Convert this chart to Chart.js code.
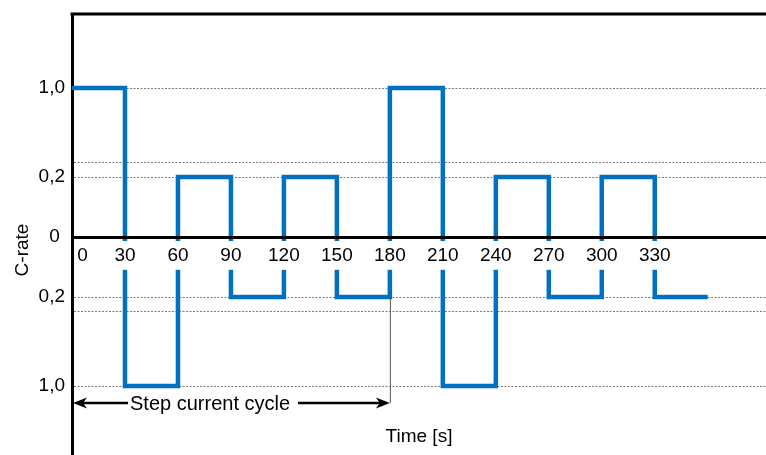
<!DOCTYPE html>
<html>
<head>
<meta charset="utf-8">
<title>Step current cycle</title>
<script src="https://cdn.jsdelivr.net/npm/chart.js@4.4.1/dist/chart.umd.min.js"></script>
<style>
  html, body { margin: 0; padding: 0; background: #fff; }
  #wrap { width: 766px; height: 455px; }
</style>
</head>
<body>
<div id="wrap"><canvas id="cycleChart" width="766" height="455"></canvas></div>
<script>
// step profile: the C-rate is held from each time to the next one
const stepTimes = [0, 30, 60, 90, 120, 150, 180, 210, 240, 270, 300, 330, 360];
const stepRates = [1.0, -1.0, 0.2, -0.2, 0.2, -0.2, 1.0, -1.0, 0.2, -0.2, 0.2, -0.2, -0.2];

const timeTicks = [0, 30, 60, 90, 120, 150, 180, 210, 240, 270, 300, 330, 360];
const timeTickLabels = ["0", "30", "60", "90", "120", "150", "180", "210", "240", "270", "300", "330", ""];

const rateTicks = [1.0, 0.33, 0.2, 0, -0.2, -0.33, -1.0];
const rateTickLabels = ["1,0", "", "0,2", "0", "0,2", "", "1,0"];

const cycleStart = 0;
const cycleEnd = 180;

const FONT = "'Liberation Sans', Arial, sans-serif";
Chart.defaults.font.family = FONT;

// the C-rate axis is stretched near zero (0..0.2 gets more room than 0.2..1.0)
function warpRate(v) {
  const a = Math.abs(v);
  const u = a <= 0.2 ? a * 300 : 60 + (a - 0.2) * 111.25;
  return v < 0 ? -u : u;
}

class RateScale extends Chart.LinearScale {
  getPixelForValue(value) {
    if (value === null || isNaN(value)) return super.getPixelForValue(value);
    return super.getPixelForValue(warpRate(value));
  }
}
RateScale.id = "rate";
RateScale.defaults = Chart.LinearScale.defaults;
Chart.register(RateScale);

const notesPlugin = {
  id: "cycleNotes",
  afterDraw(chart) {
    const { ctx, chartArea: area } = chart;
    const x = chart.scales.x, y = chart.scales.y;
    ctx.save();

    // top frame line
    ctx.strokeStyle = "#000";
    ctx.lineWidth = 3;
    ctx.beginPath();
    ctx.moveTo(area.left - 1.5, area.top);
    ctx.lineTo(area.right, area.top);
    ctx.stroke();

    // axis titles
    ctx.fillStyle = "#000";
    ctx.font = "19px " + FONT;
    ctx.textAlign = "center";
    ctx.textBaseline = "middle";
    ctx.fillText("Time [s]", (area.left + area.right) / 2, 437);
    ctx.save();
    ctx.translate(23, y.getPixelForValue(0) + 13);
    ctx.rotate(-Math.PI / 2);
    ctx.fillText("C-rate", 0, 0);
    ctx.restore();

    // cycle marker
    const x0 = x.getPixelForValue(cycleStart);
    const x1 = x.getPixelForValue(cycleEnd);
    const ay = y.getPixelForValue(-1.0) + 17;
    ctx.strokeStyle = "#555";
    ctx.lineWidth = 1;
    ctx.beginPath();
    ctx.moveTo(x1 + 0.5, y.getPixelForValue(-0.2));
    ctx.lineTo(x1 + 0.5, ay);
    ctx.stroke();

    const label = "Step current cycle";
    ctx.font = "20px " + FONT;
    ctx.textAlign = "left";
    const tx = x0 + 58;
    const tw = ctx.measureText(label).width;
    ctx.fillText(label, tx, ay + 1);

    ctx.strokeStyle = "#000";
    ctx.lineWidth = 2.5;
    ctx.beginPath();
    ctx.moveTo(x0 + 8, ay);
    ctx.lineTo(tx - 2, ay);
    ctx.moveTo(tx + tw + 8, ay);
    ctx.lineTo(x1 - 8, ay);
    ctx.stroke();

    function head(px, dir) {
      ctx.beginPath();
      ctx.moveTo(px, ay);
      ctx.lineTo(px + dir * 14, ay - 5.5);
      ctx.lineTo(px + dir * 10, ay);
      ctx.lineTo(px + dir * 14, ay + 5.5);
      ctx.closePath();
      ctx.fill();
    }
    head(x0 + 1, 1);
    head(x1, -1);

    ctx.restore();
  }
};

const ctx = document.getElementById("cycleChart").getContext("2d");
const cycleChart = new Chart(ctx, {
  type: "line",
  data: {
    datasets: [
      {
        data: stepTimes.map((t, i) => ({ x: t, y: stepRates[i] })),
        stepped: "before",
        borderColor: "#0070c0",
        borderWidth: 4.5,
        borderJoinStyle: "miter",
        borderCapStyle: "butt",
        pointRadius: 0,
        fill: false,
      },
    ],
  },
  options: {
    responsive: false,
    animation: false,
    events: [],
    layout: { padding: { top: 14, left: 0, right: 0, bottom: 0 } },
    plugins: {
      legend: { display: false },
      tooltip: { enabled: false },
    },
    scales: {
      x: {
        type: "linear",
        min: 0,
        max: 393,
        position: { y: 0 },
        afterBuildTicks: (s) => { s.ticks = timeTicks.map((v) => ({ value: v })); },
        afterFit: (s) => { s.paddingLeft = 0; s.paddingRight = 0; },
        grid: { display: false, drawTicks: false },
        border: { display: true, color: "#000", width: 3, z: 1 },
        ticks: {
          z: 1,
          align: "inner",
          padding: 7,
          autoSkip: false,
          maxRotation: 0,
          color: "#000",
          font: { size: 19 },
          callback: (v, i) => (i === 0 ? " " + timeTickLabels[i] : timeTickLabels[i]),
          showLabelBackdrop: true,
          backdropColor: (c) =>
            c.index === 0 || c.index === timeTicks.length - 1 ? "rgba(255,255,255,0)" : "#fff",
          backdropPadding: { top: 3, bottom: 3, left: 3, right: 3 },
        },
      },
      y: {
        type: "rate",
        min: -218,
        max: 223,
        afterBuildTicks: (s) => { s.ticks = rateTicks.map((v) => ({ value: v })); },
        afterFit: (s) => { s.width = 72; s.paddingTop = 0; s.paddingBottom = 0; },
        grid: { color: "#7a7a7a", lineWidth: 1, drawTicks: false },
        border: { display: true, color: "#000", width: 3, dash: [2, 1.5] },
        ticks: {
          padding: 7,
          autoSkip: false,
          color: "#000",
          font: { size: 19 },
          callback: (v, i) => (rateTickLabels[i] === "0" ? "0 " : rateTickLabels[i]),
        },
      },
    },
  },
  plugins: [notesPlugin],
});
</script>
</body>
</html>
